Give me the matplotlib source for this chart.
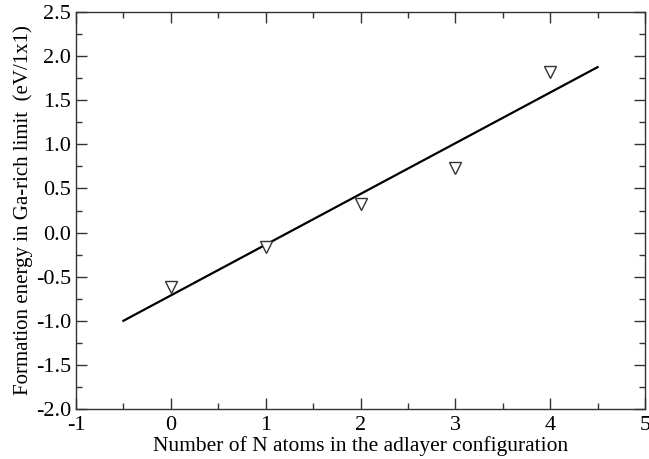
import matplotlib.pyplot as plt
from matplotlib.ticker import MultipleLocator

plt.rcParams['font.family'] = ['Liberation Serif', 'DejaVu Serif']
plt.rcParams['axes.unicode_minus'] = False

# data
n_atoms = [0, 1, 2, 3, 4]
energy = [-0.62, -0.16, 0.32, 0.73, 1.82]
fit_x = [-0.5, 4.5]
fit_y = [-1.0, 1.875]

fig = plt.figure(figsize=(6.49, 4.59), dpi=100)
ax = fig.add_axes([76 / 649, 50 / 459, 569 / 649, 397 / 459])

ax.plot(fit_x, fit_y, color='black', lw=1.6)
ax.plot(n_atoms, energy, linestyle='none', marker='v', markersize=9,
        markerfacecolor='white', markeredgecolor='#333333', markeredgewidth=1.0)

ax.set_xlim(-1, 5)
ax.set_ylim(-2.0, 2.5)
ax.xaxis.set_major_locator(MultipleLocator(1))
ax.xaxis.set_minor_locator(MultipleLocator(0.5))
ax.yaxis.set_major_locator(MultipleLocator(0.5))
ax.yaxis.set_minor_locator(MultipleLocator(0.25))
ax.yaxis.set_major_formatter(plt.FormatStrFormatter('%.1f'))
ax.tick_params(which='both', direction='in', top=True, right=True, labelsize=16,
               color='#333333')
ax.tick_params(which='major', length=8, width=1)
ax.tick_params(which='minor', length=4.5, width=1)
ax.tick_params(axis='x', pad=5)
for s in ax.spines.values():
    s.set_linewidth(1.0)
    s.set_color('#333333')

ax.set_xlabel('Number of N atoms in the adlayer configuration', fontsize=15.5, labelpad=1)
ax.set_ylabel('Formation energy in Ga-rich limit  (eV/1x1)', fontsize=15, labelpad=2)

fig.savefig('out.png', dpi=100)
